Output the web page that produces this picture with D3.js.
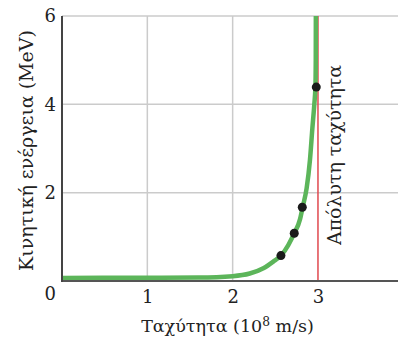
<!DOCTYPE html>
<html><head><meta charset="utf-8">
<script src="https://cdn.jsdelivr.net/npm/d3@7"></script>
<style>
html,body{margin:0;padding:0;background:#fff;}
svg{display:block;}
</style></head>
<body>
<svg id="c" width="398" height="339"></svg>
<script>
// ---- data ----
const curveSpeed  = [0, 1.0, 1.6, 2.0, 2.2, 2.36, 2.476, 2.566, 2.652, 2.722, 2.79, 2.82, 2.867, 2.906, 2.934, 2.957, 2.970, 2.974, 2.975];
const curveEnergy = [0.07, 0.075, 0.08, 0.11, 0.17, 0.29, 0.44, 0.575, 0.815, 1.08, 1.40, 1.67, 2.10, 2.74, 3.45, 4.0, 4.4, 5.0, 6.0];
const pointSpeed  = [2.566, 2.722, 2.816, 2.98];
const pointEnergy = [0.575, 1.08, 1.67, 4.39];
const xTicks = [1, 2, 3];
const yTicks = [0, 2, 4, 6];
const lightSpeed = 3;
const xLabel = "Ταχύτητα (10";
const xLabelSup = "8";
const xLabelEnd = " m/s)";
const yLabel = "Κινητική ενέργεια (MeV)";
const cLabel = "Απόλυτη ταχύτητα";

const font = "'DejaVu Serif', serif";
const svg = d3.select("#c");
const W = 398, H = 339;
const x = d3.scaleLinear().domain([0, 4]).range([62, 403.3]);
const y = d3.scaleLinear().domain([0, 6]).range([281, 16]);

// grid
const g = svg.append("g");
g.selectAll(".hg").data(yTicks.filter(d => d > 0)).enter().append("line")
  .attr("x1", x(0)).attr("x2", W).attr("y1", d => y(d)).attr("y2", d => y(d))
  .attr("stroke", "#cbcbcb").attr("stroke-width", 1.5);
g.selectAll(".vg").data(xTicks.filter(d => d !== lightSpeed)).enter().append("line")
  .attr("x1", d => x(d)).attr("x2", d => x(d)).attr("y1", y(6)).attr("y2", y(0))
  .attr("stroke", "#cbcbcb").attr("stroke-width", 1.5);

// light speed line
svg.append("line").attr("x1", x(lightSpeed)).attr("x2", x(lightSpeed))
  .attr("y1", y(6)).attr("y2", y(0)).attr("stroke", "#e0484e").attr("stroke-width", 1.5);

// curve
svg.append("defs").append("clipPath").attr("id", "clip").append("rect")
  .attr("x", x(0)).attr("y", y(6)).attr("width", W - x(0)).attr("height", y(0) - y(6));
const line = d3.line().x((d, i) => x(curveSpeed[i])).y((d, i) => y(curveEnergy[i])).curve(d3.curveMonotoneX);
svg.append("path").datum(curveSpeed).attr("d", line).attr("clip-path", "url(#clip)")
  .attr("fill", "none").attr("stroke", "#5cb55a").attr("stroke-width", 4.5);

// points
svg.selectAll(".pt").data(pointSpeed).enter().append("circle")
  .attr("cx", d => x(d)).attr("cy", (d, i) => y(pointEnergy[i])).attr("r", 4.5).attr("fill", "#1a1a1a");

// axes
const xa = svg.append("g").attr("transform", `translate(0,${y(0)})`)
  .call(d3.axisBottom(x).tickValues(xTicks).tickSize(0).tickPadding(9).tickFormat(d3.format("d")));
const ya = svg.append("g").attr("transform", `translate(${x(0)},0)`)
  .call(d3.axisLeft(y).tickValues(yTicks).tickSize(0).tickPadding(6).tickFormat(d3.format("d")));
[xa, ya].forEach(a => {
  a.select(".domain").remove();
  a.selectAll("text").attr("font-family", font).attr("font-size", 18).attr("fill", "#222");
});
ya.selectAll(".tick").filter(d => d === 0).select("text").attr("dy", "1.0em");
svg.append("line").attr("x1", x(0)).attr("x2", W).attr("y1", y(0)).attr("y2", y(0))
  .attr("stroke", "#555").attr("stroke-width", 2);
svg.append("line").attr("x1", x(0)).attr("x2", x(0)).attr("y1", y(6)).attr("y2", y(0) + 1)
  .attr("stroke", "#444").attr("stroke-width", 2);

function fit(t, target) {
  const len = t.node().getComputedTextLength();
  const fs = parseFloat(t.attr("font-size"));
  t.attr("font-size", fs * target / len);
}

// x label
const xl = svg.append("text").attr("x", 227.5).attr("y", 332).attr("text-anchor", "middle")
  .attr("font-family", font).attr("font-size", 17.5).attr("fill", "#222");
xl.append("tspan").text(xLabel);
xl.append("tspan").text(xLabelSup).attr("font-size", "0.7em").attr("dy", "-0.45em");
xl.append("tspan").text(xLabelEnd).attr("dy", "0.315em");
// y label
const yl = svg.append("text").attr("transform", "translate(33,150.5) rotate(-90)")
  .attr("text-anchor", "middle").attr("font-family", font).attr("font-size", 18).attr("fill", "#222").text(yLabel);
fit(yl, 241);
// light speed label
const cl = svg.append("text").attr("transform", "translate(341,155) rotate(-90)")
  .attr("text-anchor", "middle").attr("font-family", font).attr("font-size", 18).attr("fill", "#222").text(cLabel);
fit(cl, 180);
</script>
</body></html>
